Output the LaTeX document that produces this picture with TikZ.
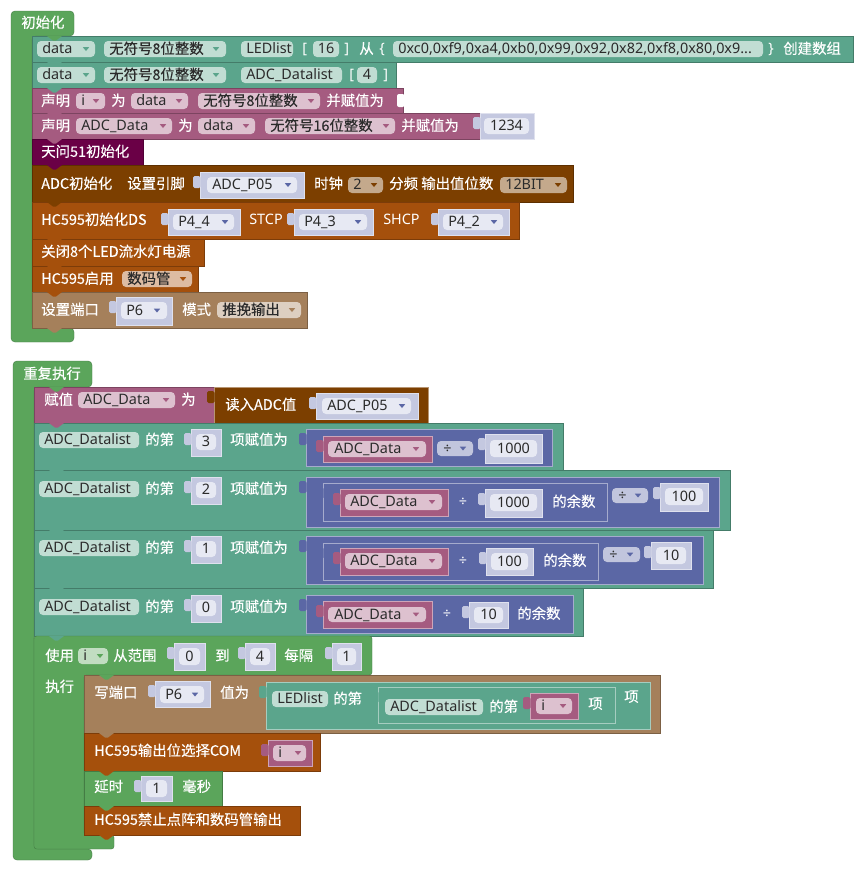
\documentclass[tikz,border=0pt]{standalone}
\usepackage{fontspec}
\setmainfont{Noto Sans CJK SC}[RawFeature={embolden=0.3}]
\newfontfamily\latinface{Noto Sans}
\newcommand\blkfont{\fontsize{10.8pt}{13pt}\selectfont}
\definecolor{loopgreen}{HTML}{5BA55B}
\definecolor{listteal}{HTML}{5BA58C}
\definecolor{varpink}{HTML}{A55B80}
\definecolor{chipplum}{HTML}{6A0046}
\definecolor{adcbrown}{HTML}{7C3F00}
\definecolor{hcorange}{HTML}{A5500C}
\definecolor{porttan}{HTML}{A5805B}
\definecolor{mathblue}{HTML}{5B67A5}
\definecolor{shadowlav}{HTML}{C4C8E0}
\definecolor{fieldwhite}{HTML}{E7E9F3}
\definecolor{fieldtext}{HTML}{2B2B2B}
\colorlet{tealfld}{listteal!38!white}
\colorlet{pinkfld}{varpink!38!white}
\colorlet{tanfld}{porttan!38!white}
\colorlet{orangefld}{hcorange!38!white}
\colorlet{brownfld}{adcbrown!45!white}
\colorlet{greenfld}{loopgreen!38!white}
\colorlet{bluefld}{mathblue!38!white}
\newcommand\stmt[5]{\filldraw[fill=#1, draw=#1!75!black, line width=0.3pt] (#2,#3) rectangle (#4,#5);}
\newcommand\notch[3]{\fill[#3] (#1+15,#2) -- (#1+21,#2+4.5) -- (#1+24,#2+4.5) -- (#1+30,#2) -- cycle;}
\newcommand\vblk[5]{\filldraw[fill=#1, draw=#1!55!white, line width=0.4pt] (#2,#3) rectangle (#4,#5);
  \fill[#1, rounded corners=1.2pt] (#2-7,#3+4) rectangle (#2+0.6,#3+16);}
\newcommand\fld[5]{\fill[#1, rounded corners=3pt] (#2,#3) rectangle (#4,#5);}
\newcommand\darr[3]{\fill[#3] (#1-3.2,#2-1.8) -- (#1+3.2,#2-1.8) -- (#1,#2+2) -- cycle;}
\begin{document}
\begin{tikzpicture}[x=0.75pt,y=-0.75pt,
  lbl/.style={inner sep=0pt, anchor=west, text=white, font=\blkfont, text height=7.6pt, text depth=0.4pt},
  lbll/.style={lbl, font=\blkfont\latinface},
  ftx/.style={lbl, text=fieldtext, font=\blkfont\latinface},
  ftc/.style={ftx, anchor=center},
  ftz/.style={lbl, text=fieldtext}]
\fill[white] (0,0) rectangle (863,871);
\useasboundingbox (0,0) rectangle (863,871);

% 初始化
\filldraw[fill=loopgreen, draw=loopgreen!75!black, line width=0.3pt, rounded corners=3pt] (11,11) -- (74,11) -- (74,36) -- (32,36) -- (32,328) -- (74,328) -- (74,342) -- (11,342) -- cycle;
\node[lbl] (setuphat) at (21,23) {初始化};

\stmt{listteal}{32}{36}{853}{62}
\fld{tealfld}{37}{41}{95}{57}
\node[ftx] (r1type) at (42,49) {data}; \darr{86}{49}{listteal}
\fld{tealfld}{104}{41}{226}{57}
\node[ftz] (r1kind) at (109,49) {无符号8位整数}; \darr{216}{49}{listteal}
\fld{tealfld}{241}{41}{293}{57}
\node[ftx] (r1name) at (246,49) {LEDlist};
\node[lbll] (r1open) at (302,49) {[};
\fld{tealfld}{313}{41}{339}{57}
\node[ftc] (r1size) at (326,49) {16};
\node[lbll] (r1close) at (344,49) {]};
\node[lbl] (r1from) at (359,49) {从};
\node[lbll] (r1lbrace) at (379,49) {\{};
\fld{tealfld}{393}{41}{763}{57}
\node[ftx] (r1vals) at (398,49) {0xc0,0xf9,0xa4,0xb0,0x99,0x92,0x82,0xf8,0x80,0x9...};
\node[lbll] (r1rbrace) at (768,49) {\}};
\node[lbl] (r1make) at (783,49) {创建数组};

\stmt{listteal}{32}{62}{396}{88}
\fld{tealfld}{37}{67}{95}{83}
\node[ftx] (r2type) at (42,75) {data}; \darr{86}{75}{listteal}
\fld{tealfld}{104}{67}{226}{83}
\node[ftz] (r2kind) at (109,75) {无符号8位整数}; \darr{216}{75}{listteal}
\fld{tealfld}{241}{67}{342}{83}
\node[ftx] (r2name) at (246,75) {ADC\_Datalist};
\node[lbll] (r2open) at (349,75) {[};
\fld{tealfld}{357}{67}{377}{83}
\node[ftc] (r2size) at (367,75) {4};
\node[lbll] (r2close) at (383,75) {]};

\stmt{varpink}{32}{88}{403}{113}
\node[lbl] (r3decl) at (41,101) {声明};
\fld{pinkfld}{76}{93}{105}{109}
\node[ftx] (r3var) at (81,101) {i}; \darr{96}{101}{varpink}
\node[lbl] (r3as) at (111,101) {为};
\fld{pinkfld}{131}{93}{188}{109}
\node[ftx] (r3type) at (136,101) {data}; \darr{179}{101}{varpink}
\fld{pinkfld}{198}{93}{320}{109}
\node[ftz] (r3kind) at (203,101) {无符号8位整数}; \darr{311}{101}{varpink}
\node[lbl] (r3init) at (326,101) {并赋值为};
\fill[white, rounded corners=1.5pt] (397,94) rectangle (404.5,107);

\stmt{varpink}{32}{113}{480}{139}
\node[lbl] (r4decl) at (41,126) {声明};
\fld{pinkfld}{76}{118}{172}{134}
\node[ftx] (r4var) at (81,126) {ADC\_Data}; \darr{163}{126}{varpink}
\node[lbl] (r4as) at (178,126) {为};
\fld{pinkfld}{198}{118}{255}{134}
\node[ftx] (r4type) at (203,126) {data}; \darr{246}{126}{varpink}
\fld{pinkfld}{265}{118}{395}{134}
\node[ftz] (r4kind) at (270,126) {无符号16位整数}; \darr{386}{126}{varpink}
\node[lbl] (r4init) at (401,126) {并赋值为};
\vblk{shadowlav}{480}{113}{534}{139}
\fld{fieldwhite}{484}{118}{529}{134}
\node[ftc] (r4num) at (506.5,126) {1234};

\stmt{chipplum}{32}{139}{143}{165}
\node[lbl] (r5chip) at (41,152) {天问51初始化};

\stmt{adcbrown}{32}{165}{573}{202}
\node[lbl] (r6adc) at (41,184) {ADC初始化};
\node[lbl] (r6pin) at (127,184) {设置引脚};
\vblk{shadowlav}{200}{172}{304}{198}
\fld{fieldwhite}{207}{177}{297}{193}
\node[ftx] (r6port) at (212,185) {ADC\_P05}; \darr{288}{185}{mathblue}
\node[lbl] (r6clk) at (314,184) {时钟};
\fld{brownfld}{348}{177}{383}{193}
\node[ftx] (r6div) at (353,185) {2}; \darr{374}{185}{adcbrown}
\node[lbl] (r6bits) at (389,184) {分频 输出值位数};
\fld{brownfld}{500}{177}{567}{193}
\node[ftx] (r6res) at (505,185) {12BIT}; \darr{558}{185}{adcbrown}

\stmt{hcorange}{32}{202}{519}{239}
\node[lbl] (r7ds) at (41,220) {HC595初始化DS};
\vblk{shadowlav}{168}{209}{240}{235}
\fld{fieldwhite}{173}{214}{234}{230}
\node[ftx] (r7dsp) at (178,222) {P4\_4}; \darr{225}{222}{mathblue}
\node[lbll] (r7st) at (249,220) {STCP};
\vblk{shadowlav}{294}{209}{373}{235}
\fld{fieldwhite}{299}{214}{367}{230}
\node[ftx] (r7stp) at (304,222) {P4\_3}; \darr{358}{222}{mathblue}
\node[lbll] (r7sh) at (383,220) {SHCP};
\vblk{shadowlav}{438}{209}{509}{235}
\fld{fieldwhite}{443}{214}{503}{230}
\node[ftx] (r7shp) at (448,222) {P4\_2}; \darr{494}{222}{mathblue}

\stmt{hcorange}{32}{239}{204}{266}
\node[lbl] (r8led) at (41,252) {关闭8个LED流水灯电源};

\stmt{hcorange}{32}{266}{198}{292}
\node[lbl] (r9on) at (41,279) {HC595启用};
\fld{orangefld}{122}{271}{192}{287}
\node[ftz] (r9mode) at (127,279) {数码管}; \darr{183}{279}{hcorange}

\stmt{porttan}{32}{292}{307}{328}
\node[lbl] (r10port) at (41,310) {设置端口};
\vblk{shadowlav}{116}{297}{172}{325}
\fld{fieldwhite}{121}{302}{167}{319}
\node[ftx] (r10p) at (126,310.5) {P6}; \darr{157}{310.5}{mathblue}
\node[lbl] (r10mode) at (182,310) {模式};
\fld{tanfld}{217}{302}{301}{318}
\node[ftz] (r10push) at (222,310) {推挽输出}; \darr{292}{310}{porttan}

\notch{32}{36}{loopgreen} \notch{32}{62}{listteal} \notch{32}{88}{listteal}
\notch{32}{113}{varpink} \notch{32}{139}{varpink} \notch{32}{165}{chipplum}
\notch{32}{202}{adcbrown} \notch{32}{239}{hcorange} \notch{32}{266}{hcorange}
\notch{32}{292}{hcorange} \notch{32}{328}{porttan}

% 重复执行
\filldraw[fill=loopgreen, draw=loopgreen!75!black, line width=0.3pt, rounded corners=3pt] (13,361) -- (92,361) -- (92,387) -- (34,387) -- (34,849) -- (92,849) -- (92,860) -- (13,860) -- cycle;
\node[lbl] (loophat) at (23,374) {重复执行};

\stmt{varpink}{34}{387}{214}{423}
\node[lbl] (l1set) at (44,400) {赋值};
\fld{pinkfld}{78}{392}{175}{408}
\node[ftx] (l1var) at (83,400) {ADC\_Data}; \darr{166}{400}{varpink}
\node[lbl] (l1to) at (181,400) {为};
\vblk{adcbrown}{214}{387}{428}{423}
\node[lbl] (l1read) at (225,405) {读入ADC值};
\vblk{shadowlav}{316}{393}{418}{419}
\fld{fieldwhite}{322}{398}{411}{414}
\node[ftx] (l1port) at (327,406) {ADC\_P05}; \darr{402}{406}{mathblue}

\stmt{listteal}{34}{423}{563}{470}
\fld{tealfld}{39}{432}{139}{448}
\node[ftx] (l2list) at (44,440) {ADC\_Datalist};
\node[lbl] (l2nth) at (145,440) {的第};
\vblk{shadowlav}{191}{429}{221}{456}
\fld{fieldwhite}{196}{434}{216}{450}
\node[ftc] (l2idx) at (206,442) {3};
\node[lbl] (l2put) at (230,440) {项赋值为};
\vblk{mathblue}{306}{429}{552}{466}
\vblk{varpink}{323}{436}{432}{462}
\fld{pinkfld}{328}{441}{426}{457}
\node[ftx] (l2var) at (334,449) {ADC\_Data}; \darr{416}{449}{varpink}
\fld{bluefld}{437}{441}{473}{456}
\node[ftx] (l2op) at (443,448.5) {÷}; \darr{463}{448.5}{mathblue}
\vblk{shadowlav}{485}{434}{542}{463}
\fld{fieldwhite}{490}{440}{537}{457}
\node[ftc] (l2num) at (513.5,448.5) {1000};

\stmt{listteal}{34}{470}{730}{530}
\fld{tealfld}{39}{481}{139}{497}
\node[ftx] (l3list) at (44,489) {ADC\_Datalist};
\node[lbl] (l3nth) at (145,489) {的第};
\vblk{shadowlav}{191}{477}{221}{504}
\fld{fieldwhite}{196}{482}{216}{498}
\node[ftc] (l3idx) at (206,490) {2};
\node[lbl] (l3put) at (230,489) {项赋值为};
\vblk{mathblue}{306}{477}{719}{527}
\vblk{mathblue}{323}{483}{607}{521}
\vblk{varpink}{340}{489}{448}{516}
\fld{pinkfld}{345}{494}{442}{510}
\node[ftx] (l3var) at (350,502) {ADC\_Data}; \darr{432}{502}{varpink}
\node[lbll, anchor=center] (l3div) at (463,502) {÷};
\vblk{shadowlav}{485}{489}{542}{517}
\fld{fieldwhite}{490}{494}{537}{511}
\node[ftc] (l3num) at (513.5,502.5) {1000};
\node[lbl] (l3mod) at (552,502) {的余数};
\fld{bluefld}{612}{488}{648}{503}
\node[ftx] (l3op) at (618,495.5) {÷}; \darr{638}{495.5}{mathblue}
\vblk{shadowlav}{660}{483}{708}{511}
\fld{fieldwhite}{665}{488}{703}{505}
\node[ftc] (l3den) at (684,496.5) {100};

\stmt{listteal}{34}{530}{713}{588}
\fld{tealfld}{39}{540}{139}{556}
\node[ftx] (l4list) at (44,548) {ADC\_Datalist};
\node[lbl] (l4nth) at (145,548) {的第};
\vblk{shadowlav}{191}{536}{221}{563}
\fld{fieldwhite}{196}{541}{216}{557}
\node[ftc] (l4idx) at (206,549) {1};
\node[lbl] (l4put) at (230,548) {项赋值为};
\vblk{mathblue}{306}{536}{703}{584}
\vblk{mathblue}{323}{543}{598}{580}
\vblk{varpink}{340}{548}{448}{575}
\fld{pinkfld}{345}{553}{442}{569}
\node[ftx] (l4var) at (350,561) {ADC\_Data}; \darr{432}{561}{varpink}
\node[lbll, anchor=center] (l4div) at (463,561) {÷};
\vblk{shadowlav}{486}{548}{533}{575}
\fld{fieldwhite}{491}{553}{528}{570}
\node[ftc] (l4num) at (509.5,561.5) {100};
\node[lbl] (l4mod) at (543,561) {的余数};
\fld{bluefld}{603}{547}{640}{562}
\node[ftx] (l4op) at (609,554.5) {÷}; \darr{630}{554.5}{mathblue}
\vblk{shadowlav}{651}{542}{691}{569}
\fld{fieldwhite}{656}{547}{686}{564}
\node[ftc] (l4den) at (671,555.5) {10};

\stmt{listteal}{34}{588}{583}{636}
\fld{tealfld}{39}{599}{139}{615}
\node[ftx] (l5list) at (44,607) {ADC\_Datalist};
\node[lbl] (l5nth) at (145,607) {的第};
\vblk{shadowlav}{191}{595}{221}{622}
\fld{fieldwhite}{196}{600}{216}{616}
\node[ftc] (l5idx) at (206,608) {0};
\node[lbl] (l5put) at (230,607) {项赋值为};
\vblk{mathblue}{306}{595}{573}{633}
\vblk{varpink}{323}{601}{432}{628}
\fld{pinkfld}{328}{607}{426}{622}
\node[ftx] (l5var) at (334,614.5) {ADC\_Data}; \darr{416}{614.5}{varpink}
\node[lbll, anchor=center] (l5div) at (447,614) {÷};
\vblk{shadowlav}{469}{602}{508}{628}
\fld{fieldwhite}{474}{607}{503}{623}
\node[ftc] (l5num) at (488.5,615) {10};
\node[lbl] (l5mod) at (517,614) {的余数};

% 使用 i 从范围
\filldraw[fill=loopgreen, draw=loopgreen!75!black, line width=0.3pt, rounded corners=2pt] (34,636) -- (372,636) -- (372,675) -- (84,675) -- (84,835) -- (114,835) -- (114,849) -- (34,849) -- cycle;
\node[lbl] (foruse) at (45,656) {使用};
\fld{greenfld}{78}{648}{108}{664}
\node[ftx] (forvar) at (83,656) {i}; \darr{100}{656}{loopgreen}
\node[lbl] (forrange) at (113,656) {从范围};
\vblk{shadowlav}{174}{643}{205}{670}
\fld{fieldwhite}{179}{648}{200}{665}
\node[ftc] (forfrom) at (189.5,656.5) {0};
\node[lbl] (forto) at (215,656) {到};
\vblk{shadowlav}{245}{643}{275}{670}
\fld{fieldwhite}{250}{648}{270}{665}
\node[ftc] (forend) at (260,656.5) {4};
\node[lbl] (forstep) at (284,656) {每隔};
\vblk{shadowlav}{332}{643}{361}{670}
\fld{fieldwhite}{337}{648}{356}{665}
\node[ftc] (forby) at (346.5,656.5) {1};
\node[lbl] (fordo) at (45,687) {执行};

\stmt{porttan}{84}{675}{660}{733}
\node[lbl] (f1write) at (94,693) {写端口};
\vblk{shadowlav}{155}{681}{210}{707}
\fld{fieldwhite}{160}{686}{204}{703}
\node[ftx] (f1p) at (165,694.5) {P6}; \darr{195}{694.5}{mathblue}
\node[lbl] (f1val) at (220,693) {值为};
\vblk{listteal}{266}{682}{650}{729}
\fld{tealfld}{272}{691}{328}{707}
\node[ftx] (f1led) at (277,699) {LEDlist};
\node[lbl] (f1nth) at (333,699) {的第};
\vblk{listteal}{378}{687}{615}{723}
\fld{tealfld}{385}{699}{483}{715}
\node[ftx] (f1list) at (390,707) {ADC\_Datalist};
\node[lbl] (f1nthb) at (489,707) {的第};
\vblk{varpink}{530}{693}{578}{719}
\fld{pinkfld}{536}{698}{572}{714}
\node[ftx] (f1i) at (541,706) {i}; \darr{563}{706}{varpink}
\node[lbl] (f1item) at (588,704) {项};
\node[lbl] (f1itemb) at (624,697) {项};

\stmt{hcorange}{84}{733}{320}{771}
\node[lbl] (f2com) at (94,751) {HC595输出位选择COM};
\vblk{varpink}{268}{740}{312}{766}
\fld{pinkfld}{273}{745}{306}{761}
\node[ftx] (f2i) at (278,753) {i}; \darr{298}{753}{varpink}

\stmt{loopgreen}{84}{771}{222}{806}
\node[lbl] (f3wait) at (94,787) {延时};
\vblk{shadowlav}{141}{776}{172}{801}
\fld{fieldwhite}{146}{780}{167}{797}
\node[ftc] (f3ms) at (156.5,788.5) {1};
\node[lbl] (f3unit) at (182,787) {毫秒};

\stmt{hcorange}{84}{806}{300}{835}
\node[lbl] (f4off) at (94,820) {HC595禁止点阵和数码管输出};

\notch{34}{387}{loopgreen} \notch{34}{423}{varpink} \notch{34}{470}{listteal}
\notch{34}{530}{listteal} \notch{34}{588}{listteal} \notch{34}{636}{listteal}
\notch{84}{675}{loopgreen} \notch{84}{733}{porttan} \notch{84}{771}{hcorange}
\notch{84}{806}{loopgreen} \notch{84}{835}{hcorange}
\end{tikzpicture}
\end{document}
